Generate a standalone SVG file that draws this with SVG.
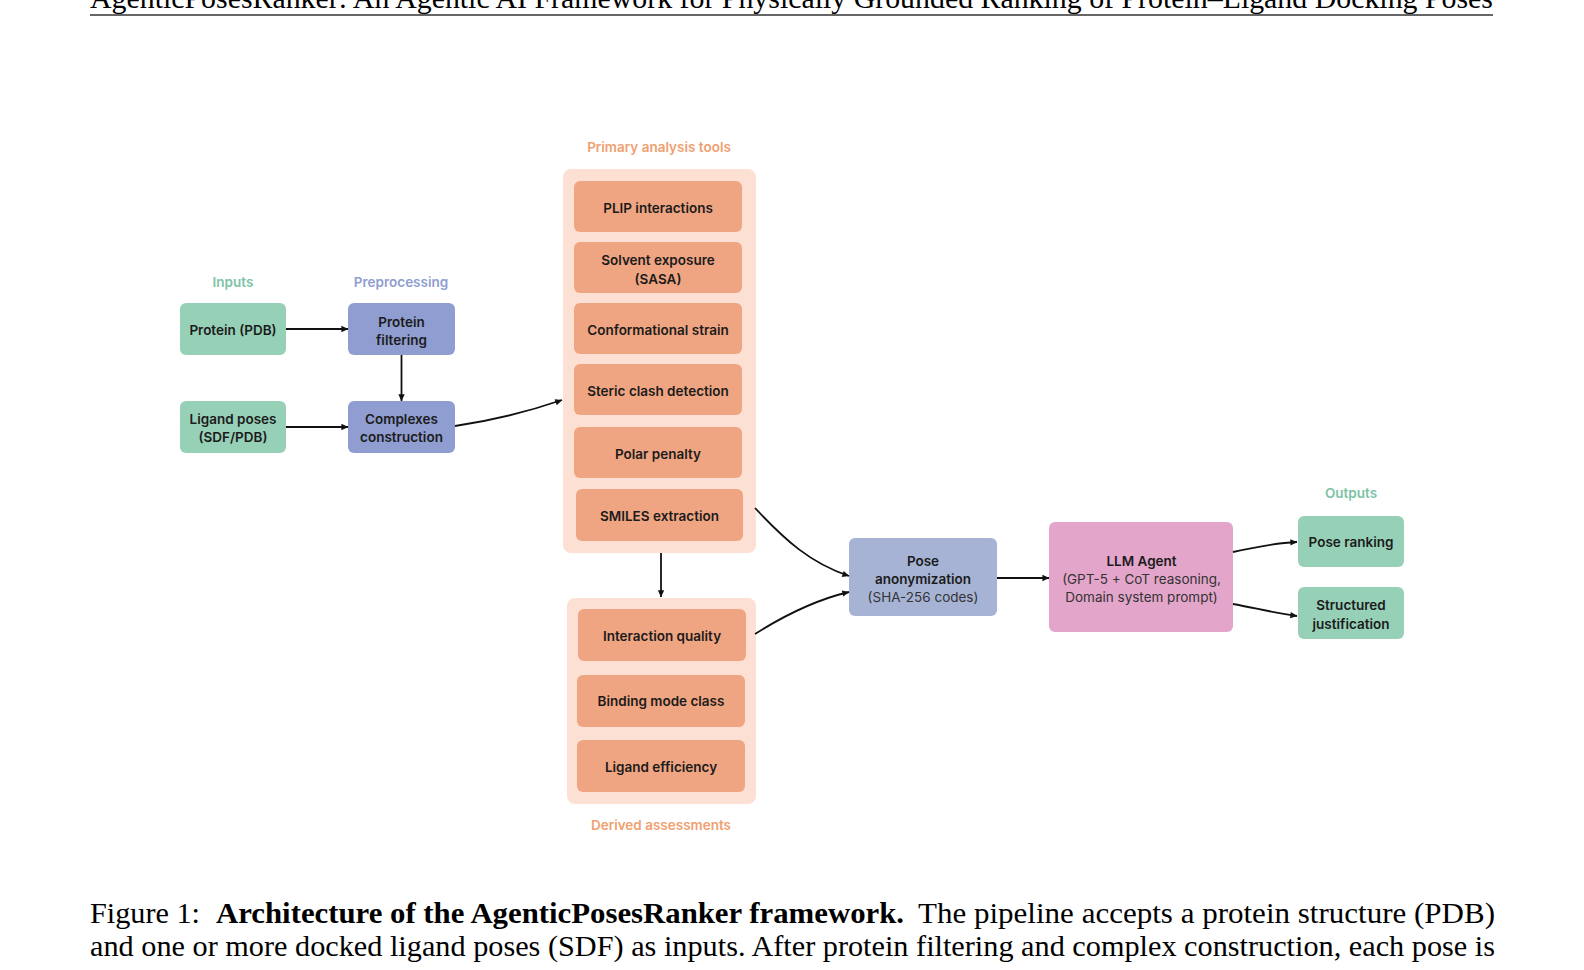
<svg xmlns="http://www.w3.org/2000/svg" width="1584" height="970" viewBox="0 0 1584 970">
<defs>
<marker id="ah" viewBox="0 0 10 10" refX="9.5" refY="5" markerWidth="7" markerHeight="7" orient="auto" markerUnits="userSpaceOnUse" style="overflow:visible">
<path d="M0,0.5 L10,5 L0,9.5 z" fill="#111"/>
</marker>
<style>
.g{fill:#96d0b7}
.b{fill:#8f9dd0}
.bl{fill:#a6b3d5}
.o{fill:#f0a582}
.oc{fill:#fde0d4}
.p{fill:#e3a5ca}
.t{font-family:Inter,"Liberation Sans",sans-serif;font-weight:600;font-size:13.5px;fill:#1b1b1b;text-anchor:middle;dominant-baseline:central}
.tn{font-family:Inter,"Liberation Sans",sans-serif;font-weight:400;font-size:13.5px;fill:#333;text-anchor:middle;dominant-baseline:central}
.lab{font-family:Inter,"Liberation Sans",sans-serif;font-weight:600;font-size:13.5px;text-anchor:middle;dominant-baseline:central}
.c{fill:none;stroke:#111;stroke-width:1.8;marker-end:url(#ah)}
.serif{font-family:"Liberation Serif",serif;font-size:29px;fill:#000}
</style>
</defs>
<rect width="1584" height="970" fill="#fff"/>

<g id="header">
<text class="serif" x="90" y="8" textLength="1403" lengthAdjust="spacingAndGlyphs">AgenticPosesRanker: An Agentic AI Framework for Physically Grounded Ranking of Protein–Ligand Docking Poses</text>
<line x1="90" y1="15" x2="1493" y2="15" stroke="#333" stroke-width="1.3"/>
</g>

<g id="labels">
<text class="lab" x="233" y="282" fill="#7cc3a5">Inputs</text>
<text class="lab" x="401" y="282" fill="#8f9dd0">Preprocessing</text>
<text class="lab" x="659" y="147" fill="#f0a070">Primary analysis tools</text>
<text class="lab" x="661" y="825" fill="#f0a070">Derived assessments</text>
<text class="lab" x="1351" y="493" fill="#7cc3a5">Outputs</text>
</g>

<g id="container-primary"><rect class="oc" x="563" y="169" width="193" height="384" rx="8"/></g>
<g id="container-derived"><rect class="oc" x="567" y="598" width="189" height="206" rx="8"/></g>

<g id="protein"><rect class="g" x="180" y="303" width="106" height="52" rx="6"/><text class="t" x="233" y="330">Protein (PDB)</text></g>
<g id="ligand"><rect class="g" x="180" y="401" width="106" height="52" rx="6"/><text class="t" x="233" y="418.5">Ligand poses</text><text class="t" x="233" y="437">(SDF/PDB)</text></g>
<g id="filtering"><rect class="b" x="348" y="303" width="107" height="52" rx="6"/><text class="t" x="401.5" y="321.5">Protein</text><text class="t" x="401.5" y="340">filtering</text></g>
<g id="complexes"><rect class="b" x="348" y="401" width="107" height="52" rx="6"/><text class="t" x="401.5" y="418.5">Complexes</text><text class="t" x="401.5" y="437">construction</text></g>

<g id="plip"><rect class="o" x="574" y="181" width="168" height="51" rx="6"/><text class="t" x="658" y="208">PLIP interactions</text></g>
<g id="sasa"><rect class="o" x="574" y="242" width="168" height="51" rx="6"/><text class="t" x="658" y="260">Solvent exposure</text><text class="t" x="658" y="278.5">(SASA)</text></g>
<g id="strain"><rect class="o" x="574" y="303" width="168" height="51" rx="6"/><text class="t" x="658" y="330">Conformational strain</text></g>
<g id="clash"><rect class="o" x="574" y="364" width="168" height="51" rx="6"/><text class="t" x="658" y="390.5">Steric clash detection</text></g>
<g id="polar"><rect class="o" x="574" y="427" width="168" height="51" rx="6"/><text class="t" x="658" y="453.5">Polar penalty</text></g>
<g id="smiles"><rect class="o" x="576" y="489" width="167" height="52" rx="6"/><text class="t" x="659.5" y="516">SMILES extraction</text></g>

<g id="iq"><rect class="o" x="578" y="609" width="168" height="52" rx="6"/><text class="t" x="662" y="636">Interaction quality</text></g>
<g id="bmc"><rect class="o" x="577" y="675" width="168" height="52" rx="6"/><text class="t" x="661" y="701">Binding mode class</text></g>
<g id="le"><rect class="o" x="577" y="740" width="168" height="52" rx="6"/><text class="t" x="661" y="767">Ligand efficiency</text></g>

<g id="anon"><rect class="bl" x="849" y="538" width="148" height="78" rx="6"/><text class="t" x="923" y="561">Pose</text><text class="t" x="923" y="579">anonymization</text><text class="tn" x="923" y="597">(SHA-256 codes)</text></g>
<g id="llm"><rect class="p" x="1049" y="522" width="184" height="110" rx="6"/><text class="t" x="1141.5" y="561">LLM Agent</text><text class="tn" x="1141.5" y="579">(GPT-5 + CoT reasoning,</text><text class="tn" x="1141.5" y="597">Domain system prompt)</text></g>

<g id="ranking"><rect class="g" x="1298" y="516" width="106" height="51" rx="6"/><text class="t" x="1351" y="542">Pose ranking</text></g>
<g id="justification"><rect class="g" x="1298" y="587" width="106" height="52" rx="6"/><text class="t" x="1351" y="605">Structured</text><text class="t" x="1351" y="623.5">justification</text></g>

<g id="connectors">
<path class="c" d="M286,329 L348,329"/>
<path class="c" d="M286,427 L348,427"/>
<path class="c" d="M401.5,355 L401.5,401"/>
<path class="c" d="M455,426 C495,420 530,411 562,400"/>
<path class="c" d="M661,553 L661,597"/>
<path class="c" d="M755,508 C785,540 810,563 849,576"/>
<path class="c" d="M755,634 C785,615 815,600 849,592"/>
<path class="c" d="M997,578 L1049,578"/>
<path class="c" d="M1233,552 C1255,547 1275,543 1297,542"/>
<path class="c" d="M1233,604 C1255,608 1275,613 1297,616"/>
</g>

<g id="caption">
<text class="serif" x="90" y="923" textLength="110" lengthAdjust="spacingAndGlyphs">Figure 1:</text>
<text class="serif" x="216" y="923" font-weight="bold" textLength="688" lengthAdjust="spacingAndGlyphs">Architecture of the AgenticPosesRanker framework.</text>
<text class="serif" x="918" y="923" textLength="577" lengthAdjust="spacingAndGlyphs">The pipeline accepts a protein structure (PDB)</text>
<text class="serif" x="90" y="956" textLength="1405" lengthAdjust="spacingAndGlyphs">and one or more docked ligand poses (SDF) as inputs. After protein filtering and complex construction, each pose is</text>
</g>
</svg>
